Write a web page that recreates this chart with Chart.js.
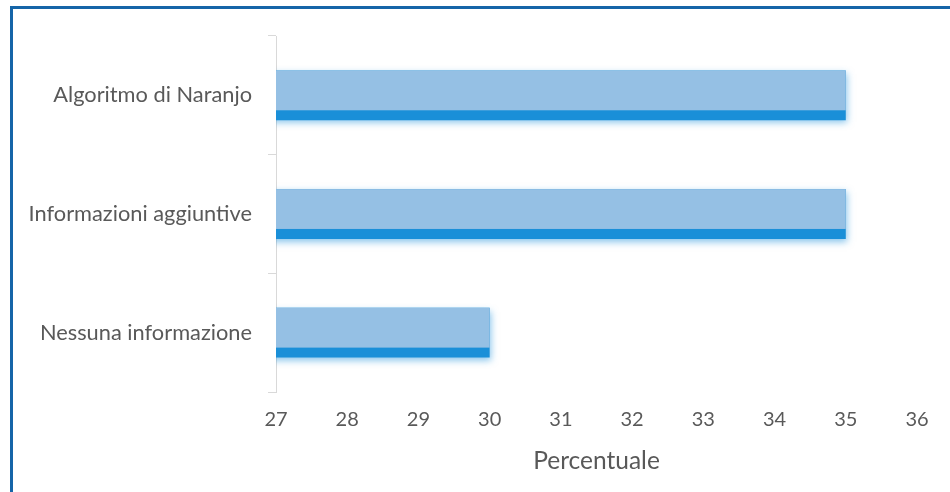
<!DOCTYPE html>
<html>
<head>
<meta charset="utf-8">
<script src="https://cdn.jsdelivr.net/npm/chart.js@4.4.0/dist/chart.umd.min.js"></script>
<style>
  html, body { margin: 0; padding: 0; background: #fff; }
  #wrap { position: relative; width: 950px; height: 492px; }
  #frame {
    position: absolute; left: 10px; top: 6px; right: 0; bottom: 0;
    border-top: 3px solid #1565a8; border-left: 3px solid #1565a8;
    pointer-events: none;
  }
</style>
</head>
<body>
<div id="wrap">
  <canvas id="percentuale" width="950" height="492"></canvas>
  <div id="frame"></div>
</div>
<script>
var categories = ['Algoritmo di Naranjo', 'Informazioni aggiuntive', 'Nessuna informazione'];
var values = [35, 35, 30];
var xTicks = [27, 28, 29, 30, 31, 32, 33, 34, 35, 36];

// light top face over the darker bar, drawn from the bar elements themselves
var barFace = {
    id: 'barFace',
    beforeDatasetDraw: function(chart){
        var ctx = chart.ctx;
        ctx.save();
        ctx.shadowColor = 'rgba(40,150,220,0.55)';
        ctx.shadowBlur = 7;
        ctx.shadowOffsetX = 1;
        ctx.shadowOffsetY = 3;
    },
    afterDatasetDraw: function(chart){
        var ctx = chart.ctx;
        ctx.restore();
        var area = chart.chartArea;
        var meta = chart.getDatasetMeta(0);
        ctx.save();
        ctx.fillStyle = '#95c0e4';
        meta.data.forEach(function(bar){
            var left = Math.max(bar.base, area.left);
            var top = bar.y - bar.height / 2;
            var h = bar.height * 0.8;
            ctx.fillRect(left, top, bar.x - left, h);
        });
        ctx.restore();
    }
};

var ctx = document.getElementById('percentuale').getContext('2d');
var myChart = new Chart(ctx, {
    type: 'bar',
    data: {
        labels: categories,
        datasets: [{
            data: values,
            backgroundColor: '#1a8fd8',
            borderWidth: 0,
            barPercentage: 0.42,
            categoryPercentage: 1
        }]
    },
    options: {
        indexAxis: 'y',
        responsive: false,
        animation: false,
        layout: { padding: { top: 36, right: 33, left: 0, bottom: 0 } },
        scales: {
            x: {
                min: 27,
                max: 36,
                afterBuildTicks: function(scale){
                    scale.ticks = xTicks.map(function(v){ return {value: v}; });
                },
                afterFit: function(scale){ scale.height = 100; },
                grid: { display: false },
                border: { display: false },
                ticks: {
                    color: '#595959',
                    padding: 8,
                    font: { family: 'Lato', size: 20 }
                },
                title: {
                    display: true,
                    text: 'Percentuale',
                    color: '#595959',
                    padding: { top: 2, bottom: 16 },
                    font: { family: 'Lato', size: 24.5 }
                }
            },
            y: {
                afterFit: function(scale){ scale.width = 276; },
                grid: {
                    offset: true,
                    drawOnChartArea: false,
                    tickLength: 8,
                    color: '#d9d9d9'
                },
                border: { display: true, color: '#d9d9d9', width: 1 },
                ticks: {
                    color: '#595959',
                    padding: 16,
                    font: { family: 'Lato', size: 21.8 }
                }
            }
        },
        plugins: {
            legend: { display: false },
            tooltip: { enabled: false }
        }
    },
    plugins: [barFace]
});
</script>
</body>
</html>
